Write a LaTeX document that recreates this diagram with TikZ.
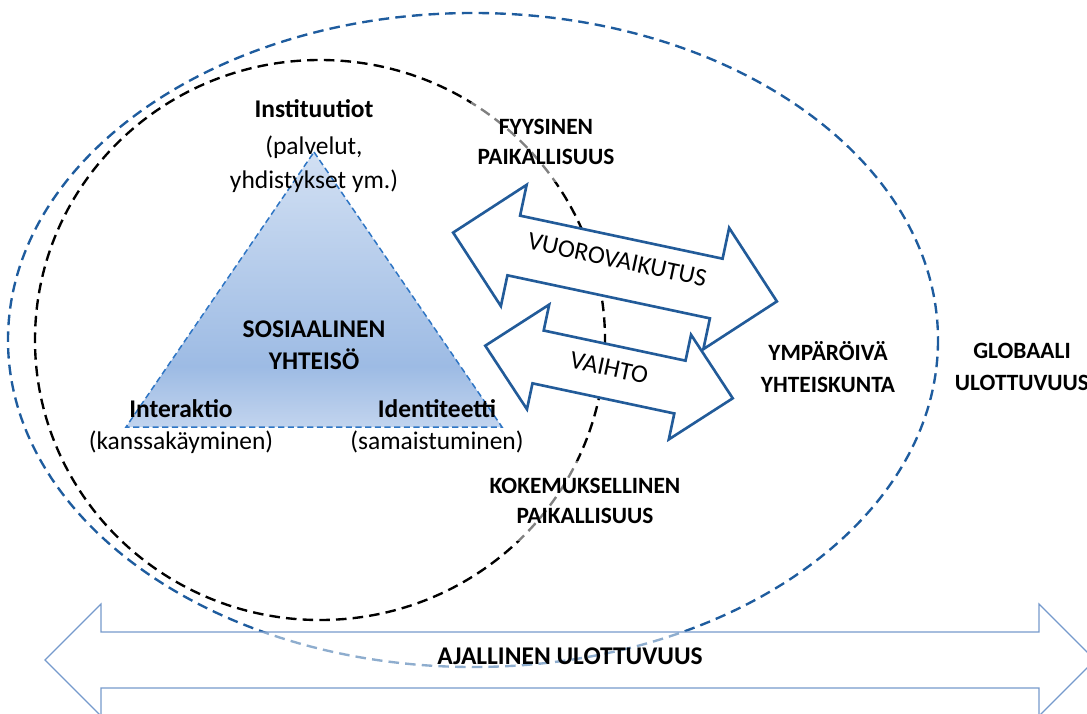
\documentclass[tikz,border=0pt]{standalone}
\usepackage{fontspec}
\setmainfont{Carlito}
\usetikzlibrary{positioning}
\definecolor{triTop}{RGB}{210,224,243}
\definecolor{triMid}{RGB}{157,187,228}
\definecolor{triBot}{RGB}{194,212,238}
\definecolor{triEdge}{RGB}{46,117,196}
\definecolor{ringBlue}{RGB}{30,92,158}
\definecolor{arrowBlue}{RGB}{34,91,153}
\definecolor{timeBlue}{RGB}{118,154,204}
\pgfdeclareverticalshading{triShade}{100bp}{color(0bp)=(triBot); color(25bp)=(triBot); color(36bp)=(triMid); color(75bp)=(triTop); color(100bp)=(triTop)}
\tikzstyle{plain} = [font=\fontsize{14.5pt}{18pt}\selectfont, text height=11pt, text depth=3pt, inner sep=1pt]
\tikzstyle{heading} = [plain, font=\fontsize{14.5pt}{18pt}\selectfont\bfseries]
\tikzstyle{capsline} = [plain, font=\fontsize{13.3pt}{17pt}\selectfont\bfseries]
\tikzstyle{caps} = [font=\fontsize{13.3pt}{17pt}\selectfont\bfseries, align=center, inner sep=1pt]
\tikzstyle{veil} = [fill=white, fill opacity=0.5, text opacity=1, inner xsep=4pt, inner ysep=10pt]
\tikzstyle{ring} = [line width=1.35pt, dash pattern=on 6pt off 3.5pt]
\tikzstyle{twoway} = [draw=arrowBlue, line width=1.5pt, fill=white, line join=miter]
\tikzstyle{timeline} = [draw=timeBlue, line width=0.7pt, fill=white, fill opacity=0.5]
\begin{document}
\begin{tikzpicture}[x=0.02cm, y=-0.02cm, node distance=0.64cm]
	\useasboundingbox (0,0) rectangle (1087,713);

	% social community triangle
	\coordinate (apex) at (314,152);
	\coordinate (baseLeft) at (126,427);
	\coordinate (baseRight) at (502,427);
	\shadedraw [shading=triShade, draw=triEdge, line width=0.85pt, dash pattern=on 3.5pt off 2pt] (apex) -- (baseRight) -- (baseLeft) -- cycle;

	% surrounding society and local community
	\draw [ring, draw=ringBlue] (473,340) ellipse [x radius=465, y radius=327];
	\draw [ring, draw=black] (320,340) ellipse [x radius=285, y radius=280];

	\node (instituutiot) [heading] at (314,110) {Instituutiot};
	\node (palvelut) [plain, below of=instituutiot, yshift=-0.1cm] {(palvelut,};
	\node (yhdistykset) [plain, below of=palvelut, yshift=-0.04cm] {yhdistykset ym.)};

	\node (sosiaalinen) [heading] at (314,330) {SOSIAALINEN};
	\node (yhteiso) [heading, below of=sosiaalinen] {YHTEISÖ};

	\node (interaktio) [heading] at (181,410) {Interaktio};
	\node (kanssakayminen) [plain, below of=interaktio] {(kanssakäyminen)};
	\node (identiteetti) [heading] at (437,410) {Identiteetti};
	\node (samaistuminen) [plain, below of=identiteetti] {(samaistuminen)};

	\node (fyysinen) [caps, veil] at (546,142) {FYYSINEN\\PAIKALLISUUS};
	\node (kokemuksellinen) [caps, veil] at (585,501) {KOKEMUKSELLINEN\\PAIKALLISUUS};

	\node (ymparoiva) [capsline] at (828,353) {YMPÄRÖIVÄ};
	\node (yhteiskunta) [capsline, below of=ymparoiva] {YHTEISKUNTA};
	\node (globaali) [capsline] at (1022,351) {GLOBAALI};
	\node (ulottuvuus) [capsline, below of=globaali] {ULOTTUVUUS};

	% two way arrows
	\begin{scope}[shift={(615,267)}, rotate=-12]
		\draw [twoway] (-165.5,0) -- (-103.5,-62) -- (-103.5,-30.5) -- (103.5,-30.5) -- (103.5,-62) -- (165.5,0)
			-- (103.5,62) -- (103.5,30.5) -- (-103.5,30.5) -- (-103.5,62) -- cycle;
	\end{scope}
	\begin{scope}[shift={(609,372)}, rotate=-12]
		\draw [twoway] (-126.5,0) -- (-72.5,-53.5) -- (-72.5,-27) -- (72.5,-27) -- (72.5,-53.5) -- (126.5,0)
			-- (72.5,53.5) -- (72.5,27) -- (-72.5,27) -- (-72.5,53.5) -- cycle;
	\end{scope}
	\node (vuorovaikutus) [plain, rotate=-12] at (617,261) {VUOROVAIKUTUS};
	\node (vaihto) [plain, rotate=-12] at (609,369) {VAIHTO};

	% time dimension
	\draw [timeline] (45,660) -- (101,604) -- (101,632) -- (1039,632) -- (1039,604) -- (1095,660)
		-- (1039,716) -- (1039,688) -- (101,688) -- (101,716) -- cycle;
	\node (ajallinen) [heading] at (570,657) {AJALLINEN ULOTTUVUUS};
\end{tikzpicture}
\end{document}
